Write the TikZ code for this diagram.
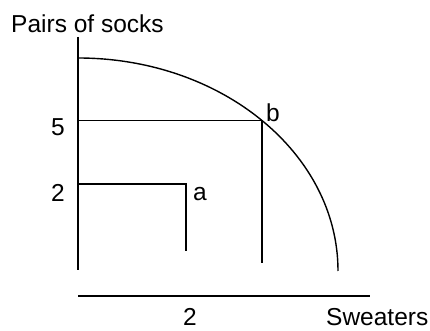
\documentclass[tikz,border=0pt]{standalone}
\usepackage{fontspec}
\setmainfont{Liberation Sans}
\begin{document}
\begin{tikzpicture}[x=1pt,y=1pt,
  ln/.style={line width=1.4pt,black},
  lbl/.style={font=\fontsize{24.5}{28}\selectfont,inner sep=0pt}]
\useasboundingbox (0,0) rectangle (430,331);
% coordinates
\coordinate (ytop) at (78,294);
\coordinate (ybot) at (78,61);
\coordinate (cstart) at (78,273);
\coordinate (b) at (261.85,210.6);
\coordinate (b5) at (78,210.6);
\coordinate (bdown) at (261.85,68);
\coordinate (a2) at (78,147);
\coordinate (acorner) at (186,147);
\coordinate (adown) at (186,80);
\coordinate (xl) at (78,35);
\coordinate (xr) at (370,35);
% axes
\draw[ln] (ytop) -- (ybot);
\draw[ln] (xl) -- (xr);
% frontier
\draw[ln] (cstart) arc[start angle=90,end angle=0,x radius=260,y radius=213];
% point b
\draw[ln] (b5) -- (b) -- (bdown);
% point a
\draw[ln] (a2) -- (acorner) -- (adown);
% labels
\node[lbl,anchor=base west] (ylab) at (11,298) {Pairs of socks};
\node[lbl] (l5) at (58,204) {5};
\node[lbl] (l2) at (58,138) {2};
\node[lbl,anchor=base west] (la) at (193,130) {a};
\node[lbl,anchor=base west] (lb) at (266,209) {b};
\node[lbl,anchor=base] (lx2) at (190,5) {2};
\node[lbl,anchor=base west] (xlab) at (326,5) {Sweaters};
\end{tikzpicture}
\end{document}
